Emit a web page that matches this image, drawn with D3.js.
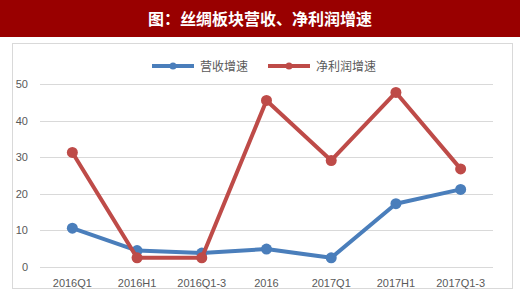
<!DOCTYPE html>
<html>
<head>
<meta charset="utf-8">
<style>
	body { margin: 0; background: #fff; }
	svg { display: block; font-family: "Noto Sans CJK SC", "Liberation Sans", sans-serif; }
</style>
</head>
<body>
<script src="https://cdn.jsdelivr.net/npm/d3@7"></script>
<script>
// data
var categories = ["2016Q1", "2016H1", "2016Q1-3", "2016", "2017Q1", "2017H1", "2017Q1-3"];
var revenue = [10.6, 4.5, 3.8, 4.9, 2.5, 17.3, 21.2];      // 营收增速
var profit  = [31.3, 2.5, 2.5, 45.5, 29.1, 47.7, 26.8];    // 净利润增速
var yTicks = [0, 10, 20, 30, 40, 50];
var seriesNames = ["营收增速", "净利润增速"];
var colors = ["#4a7ebb", "#be4b48"];

var W = 520, H = 294;
var svg = d3.select("body").append("svg").attr("width", W).attr("height", H);

// title bar
svg.append("rect").attr("x", 0).attr("y", 0).attr("width", W).attr("height", 37).attr("fill", "#990000");
svg.append("text").attr("x", W / 2).attr("y", 25).attr("text-anchor", "middle")
	.attr("fill", "#fff").attr("font-size", 16).attr("font-weight", "bold")
	.text("图：丝绸板块营收、净利润增速");

// chart frame
svg.append("rect").attr("x", 12.5).attr("y", 43.5).attr("width", 500).attr("height", 245)
	.attr("fill", "#fff").attr("stroke", "#d9d9d9").attr("stroke-width", 1);

var x = d3.scaleBand().domain(categories).range([40, 493]);
var y = d3.scaleLinear().domain([0, 50]).range([267, 84]);

// grid + y labels
svg.selectAll(".grid").data(yTicks).enter().append("line")
	.attr("x1", 40).attr("x2", 493)
	.attr("y1", function(d) { return Math.round(y(d)) + 0.5; })
	.attr("y2", function(d) { return Math.round(y(d)) + 0.5; })
	.attr("stroke", "#d9d9d9").attr("stroke-width", 1);

svg.selectAll(".ylab").data(yTicks).enter().append("text")
	.attr("x", 28).attr("y", function(d) { return y(d) + 4; })
	.attr("text-anchor", "end").attr("font-size", 11).attr("fill", "#595959")
	.attr("font-family", "Liberation Sans, sans-serif")
	.text(function(d) { return d; });

// x labels
svg.selectAll(".xlab").data(categories).enter().append("text")
	.attr("x", function(d) { return x(d) + x.bandwidth() / 2; })
	.attr("y", 287).attr("text-anchor", "middle").attr("font-size", 11).attr("fill", "#595959")
	.attr("font-family", "Liberation Sans, sans-serif")
	.text(function(d) { return d; });

var line = d3.line()
	.x(function(d, i) { return x(categories[i]) + x.bandwidth() / 2; })
	.y(function(d) { return y(d); });

[revenue, profit].forEach(function(vals, k) {
	svg.append("path").datum(vals).attr("d", line)
		.attr("fill", "none").attr("stroke", colors[k]).attr("stroke-width", 4)
		.attr("stroke-linejoin", "round");
	svg.selectAll(".dot" + k).data(vals).enter().append("circle")
		.attr("cx", function(d, i) { return x(categories[i]) + x.bandwidth() / 2; })
		.attr("cy", function(d) { return y(d); })
		.attr("r", 5.5).attr("fill", colors[k]);
});

// legend
var legX = [152, 268];
seriesNames.forEach(function(name, k) {
	var g = svg.append("g").attr("transform", "translate(" + legX[k] + ",66)");
	g.append("line").attr("x1", 0).attr("x2", 42).attr("y1", 0).attr("y2", 0)
		.attr("stroke", colors[k]).attr("stroke-width", 4);
	g.append("circle").attr("cx", 21).attr("cy", 0).attr("r", 3.5).attr("fill", colors[k]);
	g.append("text").attr("x", 48).attr("y", 5).attr("font-size", 12).attr("fill", "#595959").text(name);
});
</script>
</body>
</html>
